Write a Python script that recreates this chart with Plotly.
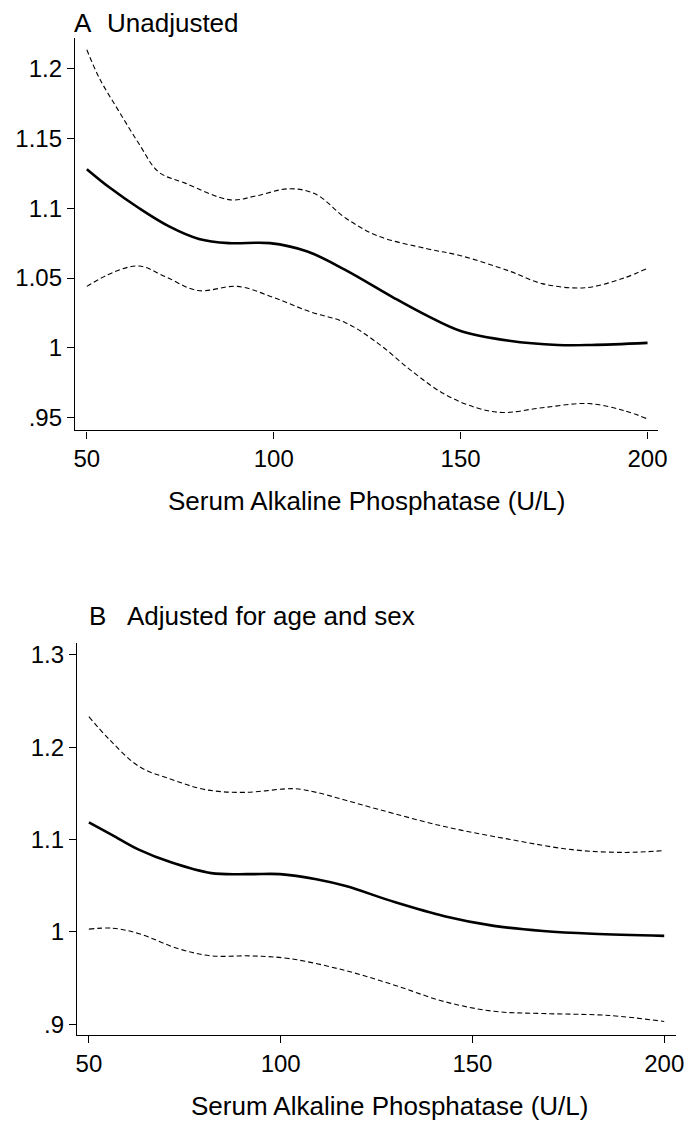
import plotly.graph_objects as go

# ---------------- Panel A: Unadjusted ----------------
a_x_est = [50, 56, 64, 72, 80, 88, 99, 109, 119, 132, 141, 150, 163, 176, 185, 200]
a_est = [1.128, 1.115, 1.100, 1.087, 1.078, 1.075, 1.075, 1.069, 1.056, 1.036, 1.023, 1.012, 1.005, 1.002, 1.002, 1.0035]

a_x_up = [50, 53.4, 58.7, 64, 69.2, 76.3, 88.4, 95.5, 104.2, 111.3, 119.2, 128, 141, 150, 163, 171.8, 183.2, 193.7, 200]
a_up = [1.2136, 1.193, 1.169, 1.146, 1.126, 1.118, 1.106, 1.109, 1.114, 1.110, 1.093, 1.080, 1.071, 1.066, 1.055, 1.046, 1.043, 1.050, 1.057]

a_x_lo = [50, 57, 64, 71, 79.7, 90.3, 100, 109.5, 119.2, 128, 136.8, 145.5, 154.2, 161.3, 171.8, 184.2, 193.7, 200]
a_lo = [1.044, 1.054, 1.0586, 1.051, 1.041, 1.044, 1.036, 1.026, 1.018, 1.003, 0.9836, 0.967, 0.957, 0.9536, 0.957, 0.960, 0.955, 0.949]

a_tickvals = [0.95, 1.0, 1.05, 1.1, 1.15, 1.2]
a_ticktext = [".95", "1", "1.05", "1.1", "1.15", "1.2"]

# ---------------- Panel B: Adjusted for age and sex ----------------
b_x_est = [50, 56, 63, 71.6, 81.9, 92, 99.8, 109.3, 117, 129.9, 142.7, 155.6, 168.4, 181.3, 200]
b_est = [1.1186, 1.105, 1.089, 1.075, 1.0636, 1.0625, 1.0625, 1.057, 1.0496, 1.032, 1.017, 1.0065, 1.001, 0.998, 0.9957]

b_x_up = [50, 55.4, 63.1, 71.6, 80.3, 90.6, 103.4, 109.3, 116.5, 125.5, 142.7, 159.9, 176, 189.7, 200]
b_up = [1.233, 1.208, 1.179, 1.165, 1.154, 1.151, 1.155, 1.151, 1.143, 1.1326, 1.114, 1.100, 1.089, 1.086, 1.088]

b_x_lo = [50, 56.2, 63.1, 73.4, 81.9, 92, 102.4, 117, 129.9, 142.7, 155.6, 168.4, 185.6, 200]
b_lo = [1.003, 1.004, 0.998, 0.9817, 0.974, 0.974, 0.971, 0.958, 0.942, 0.9245, 0.914, 0.9116, 0.9095, 0.903]

b_tickvals = [0.9, 1.0, 1.1, 1.2, 1.3]
b_ticktext = [".9", "1", "1.1", "1.2", "1.3"]

x_tickvals = [50, 100, 150, 200]
x_title = "Serum Alkaline Phosphatase (U/L)"

FONT = "Arial, 'Liberation Sans', sans-serif"
OFF = 8                    # page body margin
W, H = 700 - 2 * OFF, 1129 - OFF

fig = go.Figure()

solid = dict(color="black", width=2.6, shape="spline", smoothing=1.0)
dashed = dict(color="black", width=1.1, dash="5px,3px", shape="spline", smoothing=1.0)

fig.add_trace(go.Scatter(x=a_x_up, y=a_up, mode="lines", line=dashed, xaxis="x", yaxis="y"))
fig.add_trace(go.Scatter(x=a_x_lo, y=a_lo, mode="lines", line=dashed, xaxis="x", yaxis="y"))
fig.add_trace(go.Scatter(x=a_x_est, y=a_est, mode="lines", line=solid, xaxis="x", yaxis="y"))

fig.add_trace(go.Scatter(x=b_x_up, y=b_up, mode="lines", line=dashed, xaxis="x2", yaxis="y2"))
fig.add_trace(go.Scatter(x=b_x_lo, y=b_lo, mode="lines", line=dashed, xaxis="x2", yaxis="y2"))
fig.add_trace(go.Scatter(x=b_x_est, y=b_est, mode="lines", line=solid, xaxis="x2", yaxis="y2"))

axis_common = dict(showline=True, linecolor="black", linewidth=1.3, ticks="outside",
                   ticklen=7, tickwidth=1.2, tickcolor="black", showgrid=False,
                   zeroline=False, tickfont=dict(family=FONT, size=24, color="black"))

def px_x(p):
    return (p - OFF) / W

def px_y(p):
    return 1 - (p - OFF) / H

fig.update_layout(
    width=W, height=H, margin=dict(l=0, r=0, t=0, b=0),
    paper_bgcolor="white", plot_bgcolor="white", showlegend=False,
    xaxis=dict(domain=[px_x(75), px_x(667)], range=[46.84, 202.9], tickvals=x_tickvals,
               anchor="y", **axis_common),
    yaxis=dict(domain=[px_y(430), px_y(36)], range=[0.9407, 1.2221], tickvals=a_tickvals,
               ticktext=a_ticktext, anchor="x", **axis_common),
    xaxis2=dict(domain=[px_x(77), px_x(685)], range=[46.9, 203.1], tickvals=x_tickvals,
                anchor="y2", **axis_common),
    yaxis2=dict(domain=[px_y(1037), px_y(643)], range=[0.888, 1.313], tickvals=b_tickvals,
                ticktext=b_ticktext, anchor="x2", **axis_common),
)

def label(text, x, y, xanchor="left", yanchor="middle", size=26):
    fig.add_annotation(text=text, x=px_x(x), y=px_y(y), xref="paper", yref="paper",
                       xanchor=xanchor, yanchor=yanchor, showarrow=False, borderpad=0,
                       font=dict(family=FONT, size=size, color="black"))

# panel A title sits at the very top of the page
label("A", 73, OFF - 3, yanchor="top")
label("Unadjusted", 106, OFF - 3, yanchor="top")
label(x_title, 371, 501, xanchor="center")

label("B", 88, 616)
label("Adjusted for age and sex", 127, 616)
label(x_title, 394, 1108, xanchor="center")

fig.write_html("out.html")
